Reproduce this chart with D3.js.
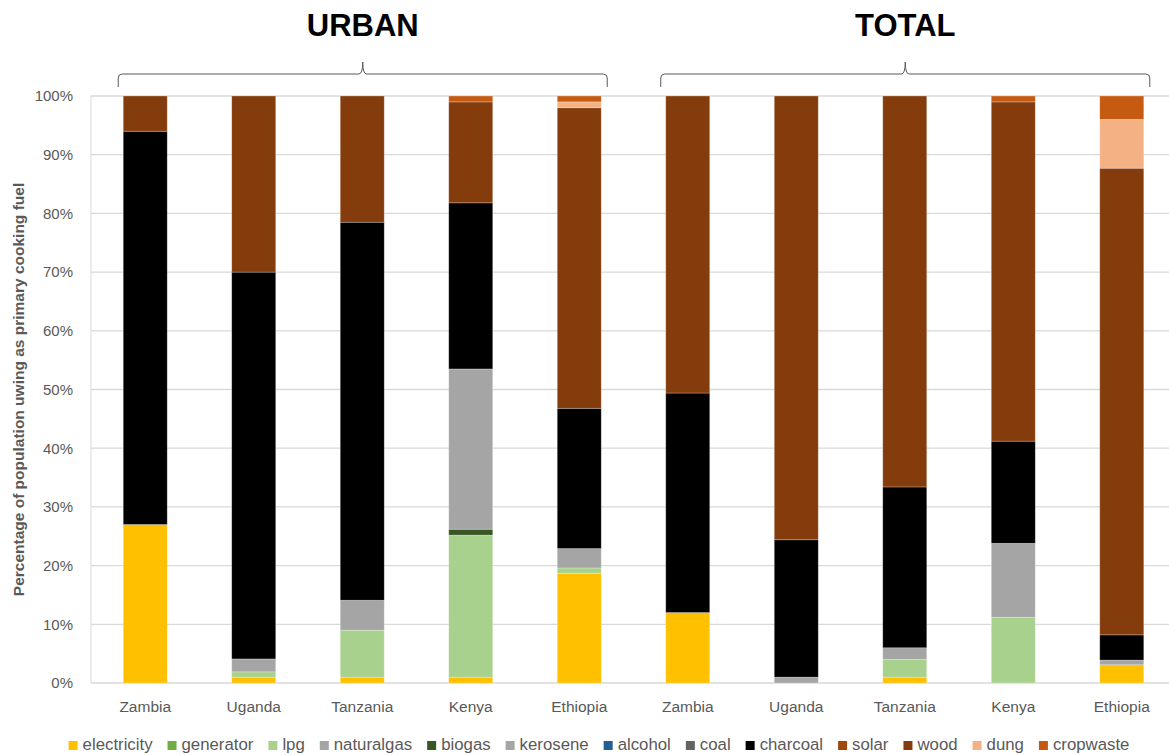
<!DOCTYPE html>
<html><head><meta charset="utf-8">
<script src="https://cdn.jsdelivr.net/npm/d3@7"></script>
<style>body{margin:0;background:#fff;} svg{display:block;}</style>
</head><body>
<svg id="chart" width="1169" height="755"></svg>
<script>
const categories = ["Zambia","Uganda","Tanzania","Kenya","Ethiopia","Zambia","Uganda","Tanzania","Kenya","Ethiopia"];
const groupTitles = ["URBAN","TOTAL"];
const yTicks = [0,10,20,30,40,50,60,70,80,90,100];
const fuels = ["electricity","generator","lpg","naturalgas","biogas","kerosene","alcohol","coal","charcoal","solar","wood","dung","cropwaste"];
const fuelColors = ["#FFC000","#70AD47","#A9D18E","#A5A5A5","#375623","#A5A5A5","#255E91","#636363","#000000","#9E480E","#843C0C","#F4B183","#C55A11"];

const electricity = [27, 1, 1, 1, 18.7, 12, 0, 1, 0, 3.1];
const generator   = [0, 0, 0, 0, 0, 0, 0, 0, 0, 0];
const lpg         = [0, 0.9, 8, 24.2, 0.9, 0, 0, 3, 11.2, 0];
const naturalgas  = [0, 0, 0, 0, 0, 0, 0, 0, 0, 0];
const biogas      = [0, 0, 0, 1.0, 0, 0, 0, 0, 0, 0];
const kerosene    = [0, 2.2, 5.1, 27.3, 3.3, 0, 1.0, 2.0, 12.6, 0.8];
const alcohol     = [0, 0, 0, 0, 0, 0, 0, 0, 0, 0];
const coal        = [0, 0, 0, 0, 0, 0, 0, 0, 0, 0];
const charcoal    = [67, 65.9, 64.4, 28.3, 23.9, 37.4, 23.4, 27.4, 17.4, 4.3];
const solar       = [0, 0, 0, 0, 0, 0, 0, 0, 0, 0];
const wood        = [6, 30, 21.5, 17.2, 51.2, 50.6, 75.6, 66.6, 57.8, 79.5];
const dung        = [0, 0, 0, 0, 1.0, 0, 0, 0, 0, 8.3];
const cropwaste   = [0, 0, 0, 1.0, 1.0, 0, 0, 0, 1.0, 4.0];

const seriesValues = {electricity, generator, lpg, naturalgas, biogas, kerosene, alcohol, coal, charcoal, solar, wood, dung, cropwaste};

(function () {
const svg = d3.select("#chart");
const W = 1169;
const mLeft = 91, mRight = 1176, mTop = 96, mBottom = 683;
const FONT = "'Liberation Sans', Arial, sans-serif";

const rows = categories.map((c, i) => {
  const r = {idx: i};
  fuels.forEach(f => r[f] = seriesValues[f][i]);
  return r;
});
const stack = d3.stack().keys(fuels)(rows);

const x = d3.scaleBand().domain(d3.range(categories.length)).range([mLeft, mRight]).paddingInner(0.5945).paddingOuter(0.297);
const y = d3.scaleLinear().domain([0, 100]).range([mBottom, mTop]);
const color = d3.scaleOrdinal().domain(fuels).range(fuelColors);

// grid
svg.append("g").selectAll("line").data(yTicks).join("line")
  .attr("x1", mLeft).attr("x2", W).attr("y1", d => y(d)).attr("y2", d => y(d))
  .attr("stroke", "#D9D9D9").attr("stroke-width", 1.3);
svg.append("line").attr("x1", mLeft).attr("x2", mLeft).attr("y1", y(100)).attr("y2", y(0))
  .attr("stroke", "#D9D9D9").attr("stroke-width", 1);

// y axis
const yAxis = d3.axisLeft(y).tickValues(yTicks).tickFormat(d => d + "%").tickSize(0).tickPadding(18);
const gy = svg.append("g").attr("transform", `translate(${mLeft},0)`).call(yAxis);
gy.select(".domain").remove();
gy.selectAll("text").attr("font-family", FONT).attr("font-size", 15).attr("fill", "#595959");

// x axis
const xAxis = d3.axisBottom(x).tickFormat(i => categories[i]).tickSize(0).tickPadding(18);
const gx = svg.append("g").attr("transform", `translate(0,${mBottom})`).call(xAxis);
gx.select(".domain").remove();
gx.selectAll("text").attr("font-family", FONT).attr("font-size", 15.5).attr("fill", "#595959");

// bars
svg.append("g").selectAll("g").data(stack).join("g")
  .attr("fill", d => color(d.key))
  .selectAll("rect").data(d => d.filter(s => s[1] - s[0] > 0)).join("rect")
  .attr("x", d => x(d.data.idx)).attr("width", x.bandwidth())
  .attr("y", d => y(d[1])).attr("height", d => y(d[0]) - y(d[1]))
  .attr("stroke", "#ffffff").attr("stroke-opacity", 0.35).attr("stroke-width", 0.75);

// y title
svg.append("text").attr("transform", `translate(24,${(mTop + mBottom) / 2}) rotate(-90)`)
  .attr("text-anchor", "middle").attr("font-family", FONT).attr("font-weight", "bold")
  .attr("font-size", 15.5).attr("fill", "#595959")
  .text("Percentage of population uwing as primary cooking fuel");

// brackets and group titles
[[0, 4], [5, 9]].forEach((g, k) => {
  const x0 = x(g[0]) - 5, x1 = x(g[1]) + x.bandwidth() + 6;
  const xm = (x0 + x1) / 2;
  const yl = 74, ye = 87, yp = 62, r = 4;
  const p = `M${x0},${ye} L${x0},${yl + r} Q${x0},${yl} ${x0 + r},${yl} L${xm - 4},${yl} Q${xm},${yl} ${xm},${yp} Q${xm},${yl} ${xm + 4},${yl} L${x1 - r},${yl} Q${x1},${yl} ${x1},${yl + r} L${x1},${ye}`;
  svg.append("path").attr("d", p).attr("fill", "none").attr("stroke", "#595959").attr("stroke-width", 1);
  svg.append("text").attr("x", xm).attr("y", 36).attr("text-anchor", "middle")
    .attr("font-family", FONT).attr("font-weight", "bold").attr("font-size", 31).attr("fill", "#000")
    .text(groupTitles[k]);
});

// legend
const lg = svg.append("g");
let cx = 0;
const gap = 15;
fuels.forEach((f, i) => {
  const g = lg.append("g");
  g.append("rect").attr("width", 9).attr("height", 9).attr("y", -9).attr("fill", fuelColors[i]);
  const t = g.append("text").attr("x", 14).attr("y", 0).attr("font-family", FONT).attr("font-size", 16.8)
    .attr("fill", "#595959").text(f);
  const w = 14 + t.node().getComputedTextLength();
  g.attr("transform", `translate(${cx},0)`);
  cx += w + gap;
});
const total = cx - gap;
lg.attr("transform", `translate(${599 - total / 2},750)`);
})();
</script>
</body></html>
